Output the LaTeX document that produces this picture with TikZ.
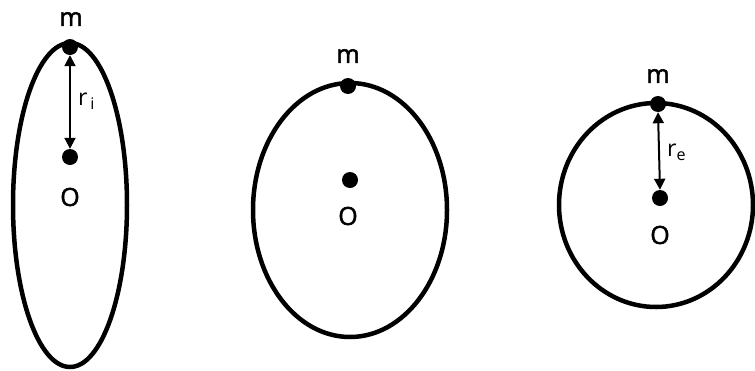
\documentclass[tikz,border=0pt]{standalone}
\usepackage{fontspec}
\setmainfont{Open Sans}
\newfontfamily\lblfont{Open Sans}[FakeBold=2]
\usetikzlibrary{arrows.meta}
\begin{document}
\begin{tikzpicture}[x=1pt,y=-1pt,
  orbit/.style={draw=black,line width=4.5pt},
  body/.style={circle,fill=black,inner sep=0pt,minimum size=16pt},
  lbl/.style={font=\fontsize{25}{28}\lblfont,inner sep=0pt},
  lbln/.style={font=\fontsize{23}{25}\selectfont,inner sep=0pt},
  radius/.style={line width=2pt,{Triangle[length=11pt,width=11pt]}-{Triangle[length=11pt,width=11pt]}}]
\useasboundingbox (0,0) rectangle (755,370);
% left ellipse
\draw[orbit] (70,205) ellipse [x radius=57, y radius=162];
\node[body] (m1) at (70,47) {};
\node[body] (o1) at (70,157) {};
\node[lbl] (ml1) at (71,19) {m};
\node[lbl] (ol1) at (70,197) {O};
\draw[radius] (m1.south) -- (o1.north);
\node[lbln,anchor=west] (r1) at (78,101) {r\textsubscript{\,i}};
% middle ellipse
\draw[orbit] (350,210) ellipse [x radius=97, y radius=127];
\node[body] (m2) at (348,86) {};
\node[body] (o2) at (350,180) {};
\node[lbl] (ml2) at (348,56) {m};
\node[lbl] (ol2) at (348,216) {O};
% right ellipse
\draw[orbit] (656,205) ellipse [x radius=97, y radius=102];
\node[body] (m3) at (658,104) {};
\node[body] (o3) at (660,198) {};
\node[lbl] (ml3) at (658,76) {m};
\node[lbl] (ol3) at (660,235) {O};
\draw[radius] (m3.south) -- (o3.north);
\node[lbln,anchor=west] (r3) at (667,152) {r\textsubscript{e}};
\end{tikzpicture}
\end{document}
